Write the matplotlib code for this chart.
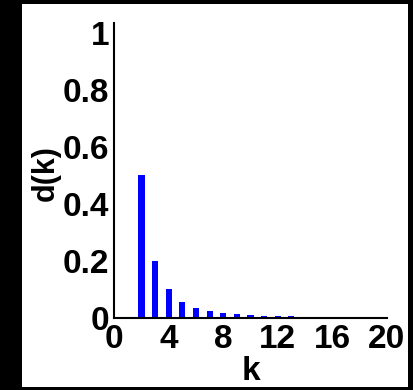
import matplotlib
matplotlib.use('Agg')
from matplotlib import pyplot as plt
from matplotlib.patches import Rectangle

# degree distribution
k = [2, 3, 4, 5, 6, 7, 8, 9, 10, 11, 12, 13]
dk = [0.5, 0.2, 0.1, 0.055, 0.035, 0.023, 0.016, 0.012, 0.009, 0.007, 0.006, 0.005]

xticks = [0, 4, 8, 12, 16, 20]
yticks = [0, 0.2, 0.4, 0.6, 0.8, 1]
ytick_labels = ['0', '0.2', '0.4', '0.6', '0.8', '1']

narrow = ['Liberation Sans Narrow', 'Liberation Sans', 'DejaVu Sans']
plt.rcParams['font.family'] = ['Liberation Sans', 'DejaVu Sans']
plt.rcParams['font.weight'] = 'bold'

fig = plt.figure(figsize=(4.14, 3.9), dpi=100, facecolor='black')
# white card on black background
fig.patches.append(Rectangle((0.0531, 0.0069), 0.9336, 0.9828,
                             transform=fig.transFigure, facecolor='white',
                             edgecolor='none', zorder=-10))

ax = fig.add_axes([0.2761, 0.1854, 0.658, 0.7549])
ax.set_zorder(5)
ax.bar(k, dk, width=0.45, color='#0000ff', zorder=1)

ax.set_xlim(0, 20)
ax.set_ylim(0, 1.033)
ax.set_xticks(xticks)
ax.set_yticks(yticks)
ax.set_yticklabels(ytick_labels)

for s in ['top', 'right']:
    ax.spines[s].set_visible(False)
for s in ['left', 'bottom']:
    ax.spines[s].set_linewidth(1.5)
    ax.spines[s].set_zorder(3)

ax.tick_params(axis='both', length=0, labelsize=24)
ax.tick_params(axis='x', pad=4.5)
ax.tick_params(axis='y', pad=3.6)
for lab in ax.get_xticklabels() + ax.get_yticklabels():
    lab.set_fontweight('bold')
    lab.set_family(narrow)

ax.set_xlabel('k', fontsize=24, fontweight='bold', family=narrow, va='baseline')
ax.xaxis.set_label_coords(0.5, -0.2116)
ax.set_ylabel('d(k)', fontsize=22, fontweight='bold', va='baseline', ha='center')
ax.yaxis.set_label_coords(-0.224, 0.4915)

fig.savefig('out.png', dpi=100, facecolor='black')
